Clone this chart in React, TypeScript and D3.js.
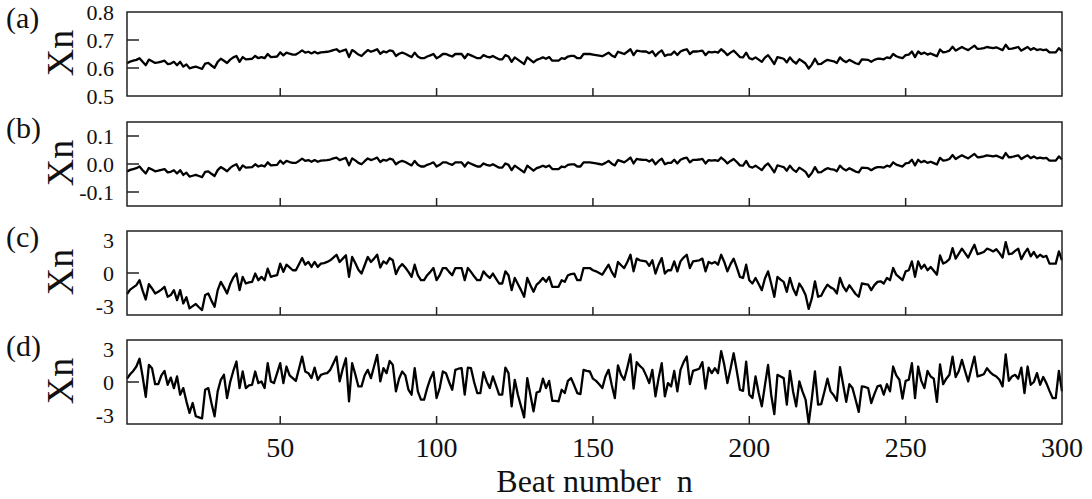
import React from "react";
import * as d3 from "d3";

// ---- data ----
const seriesA: number[] = [
0.617,0.623,0.626,0.629,0.635,0.622,0.610,0.630,0.624,0.618,0.620,0.623,0.626,0.614,0.616,0.622,0.610,0.622,0.605,0.613,
0.599,0.602,0.605,0.601,0.597,0.616,0.618,0.609,0.601,0.622,0.633,0.626,0.618,0.630,0.638,0.643,0.622,0.639,0.631,0.632,
0.633,0.643,0.635,0.639,0.635,0.650,0.639,0.640,0.641,0.656,0.645,0.655,0.651,0.648,0.648,0.655,0.663,0.655,0.658,0.652,
0.658,0.652,0.656,0.657,0.658,0.660,0.664,0.667,0.658,0.662,0.666,0.639,0.664,0.657,0.648,0.643,0.654,0.664,0.658,0.662,
0.667,0.651,0.659,0.656,0.663,0.660,0.643,0.651,0.655,0.651,0.645,0.639,0.655,0.641,0.635,0.635,0.641,0.645,0.650,0.635,
0.641,0.650,0.650,0.645,0.641,0.650,0.650,0.650,0.635,0.650,0.645,0.640,0.635,0.635,0.646,0.641,0.638,0.643,0.637,0.631,
0.631,0.646,0.641,0.622,0.638,0.630,0.622,0.614,0.638,0.629,0.620,0.629,0.633,0.638,0.633,0.639,0.626,0.626,0.626,0.635,
0.633,0.641,0.643,0.643,0.635,0.635,0.650,0.650,0.650,0.648,0.646,0.644,0.642,0.648,0.655,0.645,0.639,0.658,0.654,0.650,
0.658,0.667,0.646,0.662,0.660,0.659,0.659,0.653,0.660,0.643,0.655,0.663,0.643,0.648,0.648,0.659,0.646,0.659,0.664,0.667,
0.650,0.659,0.659,0.660,0.662,0.646,0.658,0.656,0.658,0.655,0.667,0.658,0.646,0.655,0.662,0.651,0.639,0.638,0.655,0.635,
0.631,0.638,0.630,0.622,0.637,0.646,0.631,0.614,0.639,0.636,0.633,0.620,0.638,0.624,0.616,0.631,0.624,0.616,0.598,0.612,
0.633,0.614,0.615,0.623,0.629,0.626,0.624,0.618,0.638,0.627,0.621,0.629,0.623,0.617,0.614,0.631,0.630,0.629,0.622,0.629,
0.633,0.633,0.631,0.638,0.635,0.650,0.642,0.638,0.635,0.646,0.648,0.659,0.639,0.659,0.650,0.655,0.648,0.652,0.647,0.642,
0.666,0.656,0.658,0.662,0.676,0.662,0.669,0.675,0.669,0.664,0.672,0.680,0.668,0.669,0.671,0.675,0.673,0.671,0.674,0.669,
0.664,0.683,0.668,0.669,0.672,0.675,0.662,0.669,0.675,0.665,0.671,0.664,0.667,0.664,0.666,0.656,0.656,0.656,0.671,0.660,
];

const seriesB: number[] = [
-0.027,-0.021,-0.018,-0.015,-0.009,-0.022,-0.034,-0.014,-0.020,-0.026,-0.024,-0.021,-0.018,-0.030,-0.028,-0.022,-0.034,-0.022,-0.039,-0.031,
-0.045,-0.042,-0.039,-0.043,-0.047,-0.028,-0.026,-0.035,-0.043,-0.022,-0.011,-0.018,-0.026,-0.014,-0.006,-0.001,-0.022,-0.005,-0.013,-0.012,
-0.011,-0.001,-0.009,-0.005,-0.009,0.006,-0.005,-0.004,-0.003,0.012,0.001,0.011,0.007,0.004,0.004,0.011,0.019,0.011,0.014,0.008,
0.014,0.008,0.012,0.013,0.014,0.016,0.020,0.023,0.014,0.018,0.022,-0.005,0.020,0.013,0.004,-0.001,0.010,0.020,0.014,0.018,
0.023,0.007,0.015,0.012,0.019,0.016,-0.001,0.007,0.011,0.007,0.001,-0.005,0.011,-0.003,-0.009,-0.009,-0.003,0.001,0.006,-0.009,
-0.003,0.006,0.006,0.001,-0.003,0.006,0.006,0.006,-0.009,0.006,0.001,-0.004,-0.009,-0.009,0.002,-0.003,-0.006,-0.001,-0.007,-0.013,
-0.013,0.002,-0.003,-0.022,-0.006,-0.014,-0.022,-0.030,-0.006,-0.015,-0.024,-0.015,-0.011,-0.006,-0.011,-0.005,-0.018,-0.018,-0.018,-0.009,
-0.011,-0.003,-0.001,-0.001,-0.009,-0.009,0.006,0.006,0.006,0.004,0.002,0.000,-0.002,0.004,0.011,0.001,-0.005,0.014,0.010,0.006,
0.014,0.023,0.002,0.018,0.016,0.015,0.015,0.009,0.016,-0.001,0.011,0.019,-0.001,0.004,0.004,0.015,0.002,0.015,0.020,0.023,
0.006,0.015,0.015,0.016,0.018,0.002,0.014,0.012,0.014,0.011,0.023,0.014,0.002,0.011,0.018,0.007,-0.005,-0.006,0.011,-0.009,
-0.013,-0.006,-0.014,-0.022,-0.007,0.002,-0.013,-0.030,-0.005,-0.008,-0.011,-0.024,-0.006,-0.020,-0.028,-0.013,-0.020,-0.028,-0.046,-0.032,
-0.011,-0.030,-0.029,-0.021,-0.015,-0.018,-0.020,-0.026,-0.006,-0.017,-0.023,-0.015,-0.021,-0.027,-0.030,-0.013,-0.014,-0.015,-0.022,-0.015,
-0.011,-0.011,-0.013,-0.006,-0.009,0.006,-0.002,-0.006,-0.009,0.002,0.004,0.015,-0.005,0.015,0.006,0.011,0.004,0.008,0.003,-0.002,
0.022,0.012,0.014,0.018,0.032,0.018,0.025,0.031,0.025,0.020,0.028,0.036,0.024,0.025,0.027,0.031,0.029,0.027,0.030,0.025,
0.020,0.039,0.024,0.025,0.028,0.031,0.018,0.025,0.031,0.021,0.027,0.020,0.023,0.020,0.022,0.012,0.012,0.012,0.027,0.016,
];

const seriesC: number[] = [
-1.9,-1.5,-1.3,-1.1,-0.65,-1.6,-2.4,-1.0,-1.4,-1.85,-1.7,-1.5,-1.25,-2.15,-2.0,-1.55,-2.45,-1.55,-2.75,-2.2,
-3.2,-3.0,-2.8,-3.1,-3.35,-2.0,-1.85,-2.5,-3.05,-1.55,-0.8,-1.3,-1.85,-1.0,-0.4,-0.05,-1.55,-0.35,-0.95,-0.85,
-0.8,-0.05,-0.65,-0.35,-0.65,0.4,-0.35,-0.25,-0.2,0.85,0.1,0.75,0.5,0.25,0.25,0.8,1.35,0.75,1.0,0.55,
1.0,0.55,0.85,0.9,1.0,1.15,1.4,1.65,1.0,1.3,1.6,-0.35,1.45,0.9,0.3,-0.05,0.7,1.45,1.0,1.3,
1.65,0.5,1.05,0.85,1.35,1.15,-0.1,0.5,0.8,0.5,0.1,-0.35,0.75,-0.2,-0.65,-0.65,-0.2,0.1,0.45,-0.65,
-0.2,0.45,0.45,0.1,-0.2,0.45,0.45,0.45,-0.65,0.45,0.1,-0.3,-0.65,-0.65,0.15,-0.2,-0.45,-0.05,-0.5,-0.95,
-0.95,0.15,-0.2,-1.55,-0.45,-1.0,-1.55,-2.15,-0.45,-1.1,-1.7,-1.05,-0.8,-0.45,-0.8,-0.35,-1.25,-1.25,-1.25,-0.65,
-0.8,-0.2,-0.1,-0.05,-0.65,-0.65,0.45,0.45,0.45,0.25,0.15,0.0,-0.15,0.3,0.75,0.1,-0.35,1.0,0.7,0.45,
1.0,1.65,0.15,1.3,1.15,1.1,1.05,0.65,1.15,-0.05,0.75,1.35,-0.05,0.25,0.25,1.05,0.15,1.05,1.4,1.65,
0.45,1.05,1.1,1.15,1.3,0.15,1.0,0.85,1.0,0.75,1.65,1.0,0.15,0.8,1.3,0.5,-0.35,-0.45,0.75,-0.65,
-0.95,-0.45,-1.0,-1.55,-0.5,0.15,-0.95,-2.15,-0.35,-0.6,-0.8,-1.7,-0.45,-1.4,-2.0,-0.95,-1.4,-2.0,-3.25,-2.3,
-0.75,-2.15,-2.05,-1.5,-1.05,-1.3,-1.45,-1.85,-0.45,-1.2,-1.65,-1.1,-1.5,-1.9,-2.15,-0.95,-1.0,-1.05,-1.55,-1.1,
-0.8,-0.75,-0.95,-0.45,-0.65,0.45,-0.15,-0.4,-0.65,0.15,0.25,1.05,-0.35,1.05,0.4,0.75,0.25,0.55,0.2,-0.15,
1.6,0.85,1.0,1.25,2.25,1.3,1.75,2.2,1.8,1.4,2.0,2.55,1.7,1.8,1.9,2.2,2.1,1.95,2.15,1.8,
1.4,2.8,1.7,1.75,2.0,2.2,1.25,1.8,2.2,1.5,1.9,1.4,1.65,1.45,1.55,0.85,0.85,0.85,1.95,1.15,
];

const seriesD: number[] = [
0.3,0.7,1.0,1.4,2.1,0.5,-1.35,1.55,1.25,-0.2,-0.2,0.6,1.0,-0.25,0.4,-0.55,0.5,-1.15,-0.55,-1.75,
-2.8,-1.9,-3.1,-3.2,-3.3,-0.7,-0.55,-1.9,-3.1,-0.85,0.2,0.65,-1.45,0.0,1.0,1.85,-0.55,0.95,-0.55,-0.3,
-0.25,0.95,-0.1,0.05,-0.55,1.7,0.05,-0.1,0.8,1.7,-0.1,1.4,0.6,0.35,0.1,1.2,2.3,0.95,0.8,0.35,
1.3,0.2,0.65,0.75,0.8,1.1,1.7,2.3,0.05,1.2,2.15,-1.75,1.7,0.7,-0.4,-0.4,0.6,1.1,0.35,1.4,
2.45,0.05,1.25,0.8,1.9,1.55,-0.85,0.3,0.95,0.6,-0.7,-1.15,1.25,-0.85,-1.6,-1.6,-0.55,0.3,0.9,-1.45,
-0.55,0.95,0.8,0.0,-0.7,1.1,1.2,1.25,-1.15,1.3,1.25,0.0,-1.0,-1.0,0.9,0.05,-0.55,0.5,-0.3,-1.15,
-1.15,1.3,0.8,-2.2,0.2,-1.15,-2.2,-3.2,0.35,-1.15,-2.65,-0.95,-0.85,0.3,-0.55,0.1,-1.7,-1.7,-1.75,-0.7,
-1.0,0.1,0.35,-0.3,-1.0,-1.1,1.1,1.0,0.95,0.3,0.1,-0.2,-0.55,0.5,1.1,-0.25,-1.45,1.5,0.65,0.2,
1.3,2.5,-0.6,1.8,1.45,1.2,0.6,-0.1,1.1,-1.3,0.35,1.7,-1.3,-0.1,-0.4,1.0,-0.85,1.1,1.8,2.3,
-0.2,1.0,1.1,1.2,1.8,-0.6,1.3,0.8,1.25,0.8,2.8,1.55,-0.1,1.2,2.6,1.0,-0.7,-0.8,1.85,-1.15,
-1.45,0.5,-1.0,-2.2,-0.3,1.55,-1.15,-2.9,0.65,0.5,0.35,-2.05,1.0,-0.85,-2.2,0.05,-0.85,-1.6,-3.75,-1.5,
0.95,-2.05,-2.0,-0.9,0.3,-0.85,-1.2,-1.7,1.35,-0.2,-1.8,-0.2,-0.55,-1.6,-2.7,-0.4,-0.45,-0.55,-1.9,-1.1,
-0.4,-0.3,-1.15,-0.2,-0.85,1.4,0.6,0.2,-1.5,0.1,0.2,1.7,-1.45,1.4,0.1,-0.55,1.0,0.5,0.3,-1.8,
1.6,-0.2,0.3,0.65,2.3,0.45,1.0,2.0,1.0,0.05,1.2,2.3,0.5,0.6,0.7,1.25,0.9,0.65,0.5,0.2,
-0.4,2.5,0.1,0.5,0.65,0.3,1.3,-1.0,1.4,-0.25,0.0,0.8,-0.25,0.45,-0.1,-0.8,-1.45,-1.45,1.0,-0.85,
];

const panelLabels = ["(a)", "(b)", "(c)", "(d)"];
const xTickValues = [50, 100, 150, 200, 250, 300];
const xTickLabels = ["50", "100", "150", "200", "250", "300"];
const yDomains: [number, number][] = [[0.5, 0.8], [-0.15, 0.15], [-3.8, 3.8], [-3.8, 3.8]];
const yTickValues = [[0.5, 0.6, 0.7, 0.8], [-0.1, 0.0, 0.1], [-3, 0, 3], [-3, 0, 3]];
const yTickLabels = [["0.5", "0.6", "0.7", "0.8"], ["-0.1", "0.0", "0.1"], ["-3", "0", "3"], ["-3", "0", "3"]];
const yTickMarks = [[0.6, 0.7], [-0.1, 0.0, 0.1], [0], [0]];
const yAxisTitle = "Xn";
const xAxisTitle = "Beat number  n";

const allSeries = [seriesA, seriesB, seriesC, seriesD];

// ---- layout ----
const W = 1092, H = 499;
const left = 127, right = 1062;
const panelTops = [12, 122, 231, 340];
const panelH = 84;
const FONT = "Liberation Serif, Times New Roman, serif";

export default function App() {
  const x = d3.scaleLinear().domain([1, 300]).range([left, right]);
  return (
    <svg width={W} height={H} style={{ position: "absolute", left: 0, top: 0, background: "#fff" }}
      fontFamily={FONT}>
      <rect x={0} y={0} width={W} height={H} fill="#fff" />
      {allSeries.map((data, p) => {
        const top = panelTops[p];
        const bottom = top + panelH;
        const y = d3.scaleLinear().domain(yDomains[p]).range([bottom, top]);
        const line = d3.line<number>().x((_, i) => x(i + 1)).y((v) => y(v));
        const isLast = p === allSeries.length - 1;
        return (
          <g key={p}>
            <text x={6} y={top + 16} fontSize={30} fill="#111">{panelLabels[p]}</text>
            <text transform={`translate(73,${(top + bottom) / 2 - 1}) rotate(-90)`} textAnchor="middle"
              fontSize={38} fill="#111">{yAxisTitle}</text>
            {yTickValues[p].map((v, i) => (
              <text key={i} x={114} y={y(v) + 8} textAnchor="end" fontSize={22} fill="#111">
                {yTickLabels[p][i]}
              </text>
            ))}
            {yTickMarks[p].map((v, i) => (
              <line key={i} x1={left} x2={left + 12} y1={y(v)} y2={y(v)} stroke="#222" strokeWidth={1.5} />
            ))}
            {xTickValues.slice(0, -1).map((v, i) => (
              <line key={i} x1={x(v)} x2={x(v)} y1={bottom} y2={bottom - 8} stroke="#222" strokeWidth={1.5} />
            ))}
            <path d={line(data) || ""} fill="none" stroke="#000" strokeWidth={2.3} strokeLinejoin="round" />
            <rect x={left} y={top} width={right - left} height={panelH} fill="none" stroke="#222" strokeWidth={1.5} />
            {isLast && xTickValues.map((v, i) => (
              <text key={i} x={x(v)} y={bottom + 33} textAnchor="middle" fontSize={28} fill="#111">
                {xTickLabels[i]}
              </text>
            ))}
          </g>
        );
      })}
      <text x={(left + right) / 2} y={492} textAnchor="middle" fontSize={32} fill="#111"
        style={{ whiteSpace: "pre" }}>{xAxisTitle}</text>
    </svg>
  );
}
